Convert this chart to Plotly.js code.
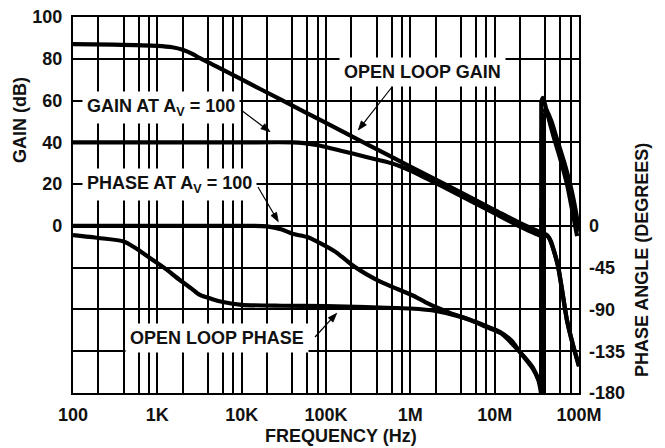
<!DOCTYPE html>
<html>
<head>
<meta charset="utf-8">
<script src="https://cdn.plot.ly/plotly-3.0.1.min.js"></script>
<style>html,body{margin:0;padding:0;background:#fff;}#chart{width:665px;height:448px;}</style>
</head>
<body>
<div id="chart"></div>
<script>
// ---------- DATA ----------
// Open-loop gain (dB)
const olGainFreq = [100, 300, 1000, 1500, 2000, 2600, 3200, 5000, 1e4, 3e4, 1e5, 3e5, 1e6, 3e6, 1e7, 2e7, 3.7e7, 4.2e7, 4.6e7, 5.6e7, 7.2e7, 8.5e7, 1e8];
const olGain     = [87, 86.8, 86.2, 85.5, 84.3, 82.3, 80.3, 76.4, 70.1, 60.2, 49.3, 39.3, 28.4, 18.5, 7.6, 1.3, -3.5, -4.5, -7, -18.5, -45, -57, -67];

// Closed-loop gain at Av = 100 (dB)
const clGainFreq = [100, 1000, 1e4, 4e4, 5.5e4, 8e4, 1.5e5, 3e5, 6e5, 1e6, 2e6, 3e6, 1e7, 2e7, 3.7e7, 4.2e7, 4.6e7, 5.6e7, 7.2e7, 8.5e7, 1e8];
const clGain     = [40, 40, 40, 40, 39.6, 38.6, 36, 33, 30, 26.5, 20.5, 16.9, 6.0, -0.3, -5.0, -4.8, -7.3, -18.8, -45.3, -57.3, -67.3];

// Open-loop phase (degrees)
const olPhaseFreq = [100, 200, 400, 550, 800, 1200, 1800, 2500, 3200, 4500, 6000, 1e4, 3e4, 1e5, 3e5, 1e6, 2e6, 4e6, 8e6, 1.15e7, 1.6e7, 2e7, 2.8e7, 3.3e7, 3.55e7, 3.57e7, 3.72e7, 4.3e7, 5.0e7, 5.96e7, 7.2e7, 8.3e7, 9.5e7];
const olPhase     = [-10, -13, -16.7, -23.8, -34, -45, -57.5, -67, -74.4, -79, -82, -85, -86, -86.5, -87.5, -89, -91.5, -98, -108, -114, -124, -136, -153, -166, -180, 134, 138, 118, 96, 73, 45, 17, -11];

// Phase at Av = 100 (degrees)
const clPhaseFreq = [100, 1000, 1e4, 2e4, 3e4, 4e4, 6e4, 8.5e4, 1.3e5, 2.1e5, 3e5, 4.4e5, 7e5, 1.07e6, 1.5e6, 2.2e6, 3e6, 5e6, 8e6, 1.2e7, 2e7, 2.8e7, 3.4e7, 3.8e7, 3.82e7, 4.05e7, 4.7e7, 5.5e7, 6.6e7, 8.0e7, 9.2e7, 1e8];
const clPhase     = [0, 0, 0, -0.5, -4, -8.5, -12, -18.5, -28, -43, -52, -60, -68, -75, -82, -89, -94, -101, -109, -116, -136, -152, -168, -180, 122, 126, 113, 93, 70, 42, 15, -6];

// Axis ticks
const decades = [100, 1e3, 1e4, 1e5, 1e6, 1e7, 1e8];
const freqTickLabels = ['100', '1K', '10K', '100K', '1M', '10M', '100M'];
const gridMultipliers = [2, 4, 6, 8];
const gainTicks = [0, 20, 40, 60, 80, 100];
const gainTickLabels = ['0', '20', '40', '60', '80', '100'];
const gainExtraGrid = [-80, -60, -40, -20];
const phaseTicks = [0, -45, -90, -135, -180];
const phaseTickLabels = ['0', '-45', '-90', '-135', '-180'];

// Labels
const labelOLGain = 'OPEN LOOP GAIN';
const labelCLGain = 'GAIN AT A<sub>V</sub> = 100';
const labelCLPhase = 'PHASE AT A<sub>V</sub> = 100';
const labelOLPhase = 'OPEN LOOP PHASE';
const xTitle = 'FREQUENCY (Hz)';
const yTitle = 'GAIN (dB)';
const y2Title = 'PHASE ANGLE (DEGREES)';

// ---------- BUILD ----------
const minorX = [];
decades.forEach(d => gridMultipliers.forEach(m => { if (d * m < 1e8) minorX.push(d * m); }));

const FONT = 'Liberation Sans, Arial, Helvetica, sans-serif';
const TXT = '#111';
const lineW = 4.2;
const smooth = {color: '#000', width: lineW, shape: 'spline', smoothing: 0.6};
const straight = {color: '#000', width: lineW, shape: 'linear'};

const traces = [
  {x: olGainFreq, y: olGain, mode: 'lines', line: smooth, yaxis: 'y'},
  {x: clGainFreq, y: clGain, mode: 'lines', line: smooth, yaxis: 'y'}
];
// phase curves: split at the wrap (-180 -> +180) so the jump is drawn straight
function addPhase(fr, ph) {
  const w = ph.findIndex((v, i) => i > 0 && v - ph[i - 1] > 90);
  traces.push({x: fr.slice(0, w), y: ph.slice(0, w), mode: 'lines', line: smooth, yaxis: 'y2'});
  traces.push({x: fr.slice(w - 1, w + 1), y: ph.slice(w - 1, w + 1), mode: 'lines', line: straight, yaxis: 'y2'});
  traces.push({x: fr.slice(w), y: ph.slice(w), mode: 'lines', line: smooth, yaxis: 'y2'});
}
addPhase(olPhaseFreq, olPhase);
addPhase(clPhaseFreq, clPhase);

const L = 73, T = 17, W = 506, H = 376;
const px = v => (v - L) / W;
const py = v => (T + H - v) / H;
const tf = {family: FONT, size: 18, color: TXT, weight: 'bold'};

function label(text, cx, cy) {
  return {text: text, xref: 'paper', yref: 'paper', x: px(cx), y: py(cy), showarrow: false,
          xanchor: 'center', yanchor: 'middle', bgcolor: '#fff', borderpad: 4, font: tf};
}
// pointer arrows as shapes: thin line + filled triangular head
const shapes = [];
function arrow(tx, ty, hx, hy) {
  const dx = hx - tx, dy = hy - ty, len = Math.hypot(dx, dy);
  const ux = dx / len, uy = dy / len, nx = -uy, ny = ux;
  const hl = 9, hw = 3.2;
  const bx = hx - hl * ux, by = hy - hl * uy;
  shapes.push({type: 'line', xref: 'paper', yref: 'paper', layer: 'above',
               x0: px(tx), y0: py(ty), x1: px(bx + ux), y1: py(by + uy),
               line: {color: '#000', width: 1.2}});
  const p = [[hx, hy], [bx + hw * nx, by + hw * ny], [bx - hw * nx, by - hw * ny]]
    .map(q => px(q[0]).toFixed(5) + ',' + py(q[1]).toFixed(5));
  shapes.push({type: 'path', xref: 'paper', yref: 'paper', layer: 'above',
               path: 'M' + p[0] + 'L' + p[1] + 'L' + p[2] + 'Z',
               fillcolor: '#000', line: {color: '#000', width: 0.8}});
}
arrow(392, 87, 358.3, 130);
arrow(241, 110, 270, 131.7);
arrow(258, 187, 278.3, 221.7);
arrow(315, 337, 336.7, 313.3);

const layout = {
  width: 665, height: 448,
  margin: {l: L, r: 665 - L - W, t: T, b: 448 - T - H, autoexpand: false},
  paper_bgcolor: '#fff', plot_bgcolor: '#fff',
  showlegend: false, hovermode: false,
  xaxis: {
    type: 'log', range: [2, 8], tickmode: 'array', tickvals: decades, ticktext: freqTickLabels,
    showgrid: true, gridcolor: '#000', gridwidth: 2,
    minor: {tickmode: 'array', tickvals: minorX, showgrid: true, gridcolor: '#000', gridwidth: 2, ticks: ''},
    showline: true, linecolor: '#000', linewidth: 2.2, mirror: true,
    ticks: '', ticklabelstandoff: 4, tickfont: tf, zeroline: false, automargin: false
  },
  yaxis: {
    range: [-80, 100], tickmode: 'array', tickvals: gainTicks, ticktext: gainTickLabels,
    showgrid: true, gridcolor: '#000', gridwidth: 2,
    minor: {tickmode: 'array', tickvals: gainExtraGrid, showgrid: true, gridcolor: '#000', gridwidth: 2, ticks: ''},
    showline: true, linecolor: '#000', linewidth: 2.2, mirror: true,
    ticks: '', ticklabelstandoff: 5, tickfont: tf, zeroline: false, automargin: false
  },
  yaxis2: {
    overlaying: 'y', side: 'right', range: [-180, 225], tickmode: 'array',
    tickvals: phaseTicks, ticktext: phaseTickLabels,
    showgrid: false, zeroline: false, showline: false,
    ticks: '', ticklabelstandoff: 9, tickfont: tf, automargin: false
  },
  shapes: shapes,
  annotations: [
    label(labelOLGain, 422.5, 72),
    label(labelCLGain, 161, 107.5),
    label(labelCLPhase, 169.5, 184),
    label(labelOLPhase, 217, 338),
    {text: yTitle, xref: 'paper', yref: 'paper', x: px(20), y: py(120), textangle: -90,
     showarrow: false, xanchor: 'center', yanchor: 'middle', font: tf},
    {text: y2Title, xref: 'paper', yref: 'paper', x: px(642), y: py(260), textangle: -90,
     showarrow: false, xanchor: 'center', yanchor: 'middle', font: tf},
    {text: xTitle, xref: 'paper', yref: 'paper', x: px(341), y: py(436),
     showarrow: false, xanchor: 'center', yanchor: 'middle', font: tf}
  ]
};

Plotly.newPlot('chart', traces, layout, {staticPlot: true, displayModeBar: false});
</script>
</body>
</html>
